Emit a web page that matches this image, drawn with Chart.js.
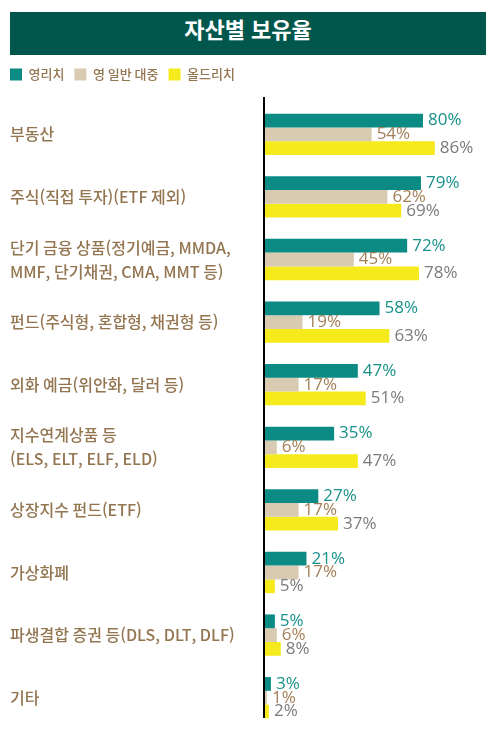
<!DOCTYPE html>
<html lang="ko">
<head>
<meta charset="utf-8">
<script src="https://cdn.jsdelivr.net/npm/chart.js"></script>
<style>
  html, body { margin: 0; padding: 0; background: #fff; }
  #wrap { position: relative; width: 500px; height: 735px; }
  #title {
    position: absolute; left: 10px; top: 12px; width: 476px; height: 43px;
    background: #01574c; color: #fff; text-align: center; line-height: 43px;
    font: bold 22px "Noto Sans CJK KR", sans-serif;
  }
  #chartBox { position: absolute; left: 0; top: 0; width: 500px; height: 735px; }
</style>
</head>
<body>
<div id="wrap">
  <div id="title">자산별 보유율</div>
  <div id="chartBox"><canvas id="holdChart"></canvas></div>
</div>
<script>
// 자산 분류
const categories = [
  "부동산",
  "주식(직접 투자)(ETF 제외)",
  ["단기 금융 상품(정기예금, MMDA,", "MMF, 단기채권, CMA, MMT 등)"],
  "펀드(주식형, 혼합형, 채권형 등)",
  "외화 예금(위안화, 달러 등)",
  ["지수연계상품 등", "(ELS, ELT, ELF, ELD)"],
  "상장지수 펀드(ETF)",
  "가상화폐",
  "파생결합 증권 등(DLS, DLT, DLF)",
  "기타"
];
const seriesNames = ["영리치", "영 일반 대중", "올드리치"];
const youngRich = [80, 79, 72, 58, 47, 35, 27, 21, 5, 3];
const generalPublic = [54, 62, 45, 19, 17, 6, 17, 17, 6, 1];
const oldRich = [86, 69, 78, 63, 51, 47, 37, 5, 8, 2];

const barColors = ["#0b8b83", "#d9cbb2", "#f5eb1c"];
const labelColors = ["#17918a", "#a27f57", "#7b7b7b"];
const textBrown = "#937550";

// 막대 끝 값 표시
const valueLabels = {
  id: "valueLabels",
  afterDatasetsDraw(chart) {
    const ctx = chart.ctx;
    ctx.save();
    ctx.font = '17px "Open Sans", sans-serif';
    ctx.textBaseline = "middle";
    ctx.textAlign = "left";
    chart.data.datasets.forEach((ds, i) => {
      const meta = chart.getDatasetMeta(i);
      ctx.fillStyle = labelColors[i];
      meta.data.forEach((bar, j) => {
        ctx.fillText(ds.data[j] + "%", bar.x + 5, bar.y);
      });
    });
    ctx.restore();
  }
};

// 세로 축선
const axisLine = {
  id: "axisLine",
  afterDraw(chart) {
    const { ctx, chartArea } = chart;
    ctx.save();
    ctx.strokeStyle = "#000";
    ctx.lineWidth = 2;
    ctx.beginPath();
    ctx.moveTo(chartArea.left - 1, chartArea.top - 6);
    ctx.lineTo(chartArea.left - 1, chartArea.bottom - 11);
    ctx.stroke();
    ctx.restore();
  }
};

// 범례 아래 여백 + 왼쪽 정렬
const legendGap = {
  id: "legendGap",
  beforeInit(chart) {
    const fit = chart.legend.fit;
    chart.legend.fit = function () {
      fit.bind(chart.legend)();
      this.height += 12;
    };
  },
  afterLayout(chart) {
    chart.legend.left = 0;
  }
};

new Chart(document.getElementById("holdChart"), {
  type: "bar",
  data: {
    labels: categories,
    datasets: [
      { label: seriesNames[0], data: youngRich, backgroundColor: barColors[0] },
      { label: seriesNames[1], data: generalPublic, backgroundColor: barColors[1] },
      { label: seriesNames[2], data: oldRich, backgroundColor: barColors[2] }
    ]
  },
  options: {
    indexAxis: "y",
    responsive: true,
    maintainAspectRatio: false,
    animation: false,
    datasets: { bar: { categoryPercentage: 0.66, barPercentage: 1.0 } },
    layout: { padding: { top: 58, left: 10, right: 2, bottom: 6 } },
    scales: {
      x: { display: false, min: 0, max: 118 },
      y: {
        afterFit(scale) {
          scale.width = 255;
          scale.paddingTop = 0;
          scale.paddingBottom = 0;
        },
        grid: { display: false },
        border: { display: false },
        ticks: {
          crossAlign: "far",
          padding: 0,
          color: textBrown,
          font: { family: '"Noto Sans CJK KR", sans-serif', size: 16, weight: "500", lineHeight: 1.5 }
        }
      }
    },
    plugins: {
      legend: {
        position: "top",
        align: "start",
        labels: {
          boxWidth: 12,
          boxHeight: 12,
          padding: 10,
          color: textBrown,
          font: { family: '"Noto Sans CJK KR", sans-serif', size: 13, weight: "500" }
        }
      },
      tooltip: { enabled: false }
    }
  },
  plugins: [valueLabels, axisLine, legendGap]
});
</script>
</body>
</html>
